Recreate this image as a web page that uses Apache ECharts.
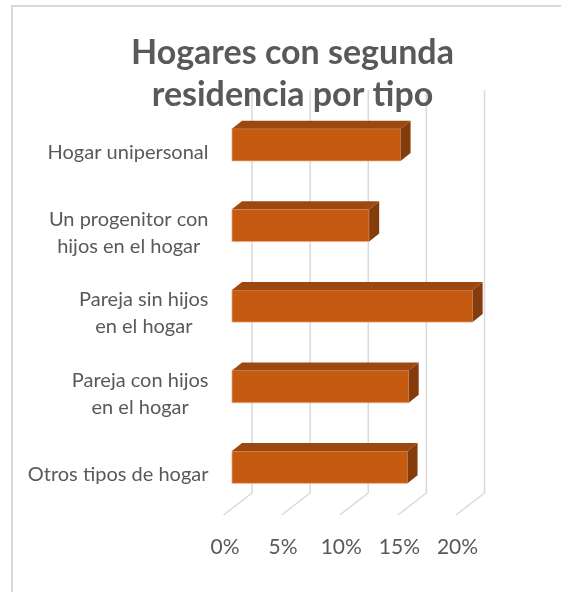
<!DOCTYPE html>
<html>
<head>
<meta charset="utf-8">
<script src="https://cdn.jsdelivr.net/npm/echarts@6/dist/echarts.min.js"></script>
<style>html,body{margin:0;padding:0;background:#fff;}#c{width:561px;height:592px;}</style>
</head>
<body>
<div id="c"></div>
<script>
const titleText = 'Hogares con segunda\nresidencia por tipo';
const categories = ['Hogar unipersonal', 'Un progenitor con\nhijos en el hogar', 'Pareja sin hijos\nen el hogar', 'Pareja con hijos\nen el hogar', 'Otros tipos de hogar'];
const values = [14.5, 11.8, 20.7, 15.2, 15.1];
const tickValues = [0, 5, 10, 15, 20];

const FONT = 'Lato';
const TXT = '#595959';
const DEPTH_X = 28.5, DEPTH_Y = -22;   // floor depth (oblique projection)
const BAR_DX = 8.5, BAR_DY = -7.5;     // bar front face offset from front plane
const BAR_TX = 10, BAR_TY = -8;        // bar thickness offset

const chart = echarts.init(document.getElementById('c'), null, {renderer: 'canvas'});
chart.setOption({
  animation: false,
  backgroundColor: '#fff',
  title: {
    text: titleText,
    left: 287.5,
    top: 27,
    textAlign: 'center',
    textStyle: {fontFamily: FONT, fontWeight: 'bold', fontSize: 34, lineHeight: 42, color: TXT}
  },
  graphic: [{
    type: 'rect', shape: {x: 12, y: 6, width: 700, height: 700},
    style: {fill: 'none', stroke: '#d9d9d9', lineWidth: 2}, silent: true, z: -10
  }],
  grid: {left: 223.5, top: 112, width: 232.5, height: 403, containLabel: false},
  xAxis: {
    type: 'value', min: 0, max: 20, interval: 5,
    axisLine: {show: false}, axisTick: {show: false}, splitLine: {show: false},
    axisLabel: {formatter: '{value}%', margin: 22, color: TXT, fontFamily: FONT, fontSize: 21, padding: [0, 0, 0, 3]}
  },
  yAxis: {
    type: 'category', inverse: true, data: categories,
    axisLine: {show: false}, axisTick: {show: false}, splitLine: {show: false},
    axisLabel: {
      margin: 15,
      formatter: v => v.split('\n').map(s => '{c|' + s + '}').join('\n'),
      rich: {c: {align: 'center', color: TXT, fontFamily: FONT, fontSize: 20, lineHeight: 27}}
    }
  },
  series: [{
    type: 'custom',
    silent: true,
    data: tickValues.map(v => [v, 0]),
    z: 1,
    renderItem: function (params, api) {
      const cs = params.coordSys;
      const x = api.coord([api.value(0), 0])[0];
      const yb = cs.y + cs.height, yt = cs.y;
      return {
        type: 'polyline',
        shape: {points: [[x, yb], [x + DEPTH_X, yb + DEPTH_Y], [x + DEPTH_X, yt + DEPTH_Y]]},
        style: {stroke: '#d9d9d9', lineWidth: 1.5, fill: null}
      };
    }
  }, {
    type: 'custom',
    silent: true,
    data: values.map((v, i) => [v, i]),
    z: 2,
    renderItem: function (params, api) {
      const idx = api.value(1);
      const p0 = api.coord([0, idx]);
      const p1 = api.coord([api.value(0), idx]);
      const h = api.size([0, 1])[1] * 0.4;
      const x0 = p0[0] + BAR_DX, x1 = p1[0] + BAR_DX;
      const yc = p0[1] + BAR_DY;
      const t = yc - h / 2, b = yc + h / 2;
      return {
        type: 'group',
        children: [{
          type: 'polygon',
          shape: {points: [[x0, t], [x1, t], [x1, b], [x0, b]]},
          style: {fill: '#C55A11', stroke: '#EDA67A', lineWidth: 0.8}
        }, {
          type: 'polygon',
          shape: {points: [[x0, t], [x1, t], [x1 + BAR_TX, t + BAR_TY], [x0 + BAR_TX, t + BAR_TY]]},
          style: {fill: '#9D4810'}
        }, {
          type: 'polygon',
          shape: {points: [[x1, t], [x1 + BAR_TX, t + BAR_TY], [x1 + BAR_TX, b + BAR_TY], [x1, b]]},
          style: {fill: '#843C0C'}
        }]
      };
    }
  }]
});
</script>
</body>
</html>
